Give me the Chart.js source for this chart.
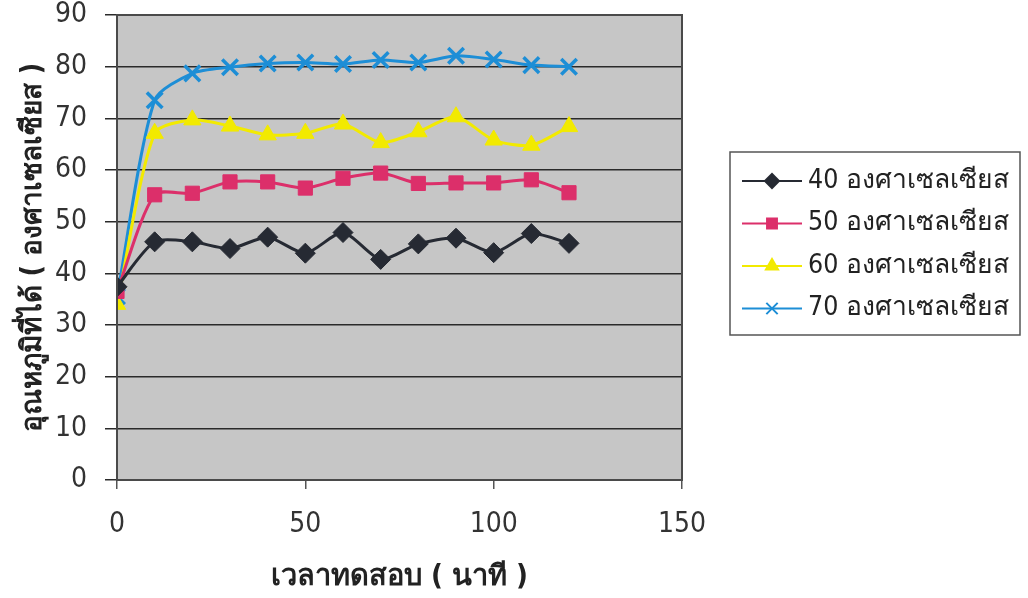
<!DOCTYPE html>
<html>
<head>
<meta charset="utf-8">
<script src="https://cdn.jsdelivr.net/npm/chart.js@4.4.1/dist/chart.umd.min.js"></script>
<style>
  html, body { margin: 0; padding: 0; background: #fff; }
  #wrap { width: 1028px; height: 598px; position: relative; }
</style>
</head>
<body>
<div id="wrap"><canvas id="chart"></canvas></div>
<script>
// test time in minutes
const times = [0, 10, 20, 30, 40, 50, 60, 70, 80, 90, 100, 110, 120];

// measured temperature (deg C) for each set temperature
const temp40 = [37.4, 46.1, 46.1, 44.8, 47.0, 43.9, 47.9, 42.7, 45.7, 46.8, 44.0, 47.7, 45.8];
const temp50 = [36.5, 55.2, 55.5, 57.7, 57.7, 56.5, 58.4, 59.4, 57.4, 57.5, 57.5, 58.1, 55.6];
const temp60 = [34.0, 67.1, 69.7, 68.5, 66.8, 67.1, 68.9, 65.3, 67.4, 70.3, 65.8, 64.8, 68.4];
const temp70 = [35.5, 73.5, 78.7, 79.9, 80.6, 80.8, 80.5, 81.3, 80.8, 82.1, 81.4, 80.3, 80.0];

const seriesNames = ['40 องศาเซลเซียส', '50 องศาเซลเซียส', '60 องศาเซลเซียส', '70 องศาเซลเซียส'];
const xTitle = 'เวลาทดสอบ ( นาที )';
const yTitle = 'อุณหภูมิที่ได้ ( องศาเซลเซียส )';

const FONT = "'DejaVu Sans Condensed', 'DejaVu Sans', 'Noto Sans', sans-serif";

function pairs(vals) {
  return times.map((t, i) => ({ x: t, y: vals[i] }));
}

function series(label, vals, color, style, radius) {
  return {
    label: label,
    data: pairs(vals),
    borderColor: color,
    backgroundColor: color,
    borderWidth: 3,
    tension: 0.25,
    pointStyle: style,
    pointRadius: radius,
    pointBorderWidth: style === 'crossRot' ? 3.5 : 1,
    pointBorderColor: color,
    pointBackgroundColor: color,
  };
}

const datasets = [
  series(seriesNames[0], temp40, '#262a33', 'rectRot', 10),
  series(seriesNames[1], temp50, '#dc2f6a', 'rect', 10),
  series(seriesNames[2], temp60, '#f2ea00', 'triangle', 10),
  series(seriesNames[3], temp70, '#1d8ed6', 'crossRot', 11),
];

// gray plot area with a dark frame
const plotFrame = {
  id: 'plotFrame',
  beforeDraw(chart) {
    const { ctx, chartArea: a } = chart;
    ctx.save();
    ctx.fillStyle = '#c6c6c6';
    ctx.fillRect(a.left, a.top, a.right - a.left, a.bottom - a.top);
    ctx.restore();
  },
  afterDatasetsDraw(chart) {
    const { ctx, chartArea: a } = chart;
    ctx.save();
    ctx.strokeStyle = '#4a4a4a';
    ctx.lineWidth = 2;
    ctx.strokeRect(a.left, a.top, a.right - a.left, a.bottom - a.top);
    ctx.restore();
  }
};

// Excel style legend: line through marker, boxed
const boxLegend = {
  id: 'boxLegend',
  afterDraw(chart) {
    const ctx = chart.ctx;
    const box = { x: 730, y: 152, w: 290, h: 183 };
    ctx.save();
    ctx.fillStyle = '#fff';
    ctx.fillRect(box.x, box.y, box.w, box.h);
    ctx.strokeStyle = '#555';
    ctx.lineWidth = 1.5;
    ctx.strokeRect(box.x, box.y, box.w, box.h);
    chart.data.datasets.forEach((ds, i) => {
      const y = box.y + 29 + i * 42.5;
      ctx.strokeStyle = ds.borderColor;
      ctx.lineWidth = 2;
      ctx.beginPath();
      ctx.moveTo(box.x + 12, y);
      ctx.lineTo(box.x + 72, y);
      ctx.stroke();
      ctx.fillStyle = ds.backgroundColor;
      Chart.helpers.drawPoint(ctx, {
        pointStyle: ds.pointStyle,
        radius: ds.pointRadius - 3,
        rotation: 0,
        borderWidth: ds.pointBorderWidth,
      }, box.x + 42, y);
      ctx.fillStyle = '#222';
      ctx.font = '26.5px ' + FONT;
      ctx.textBaseline = 'middle';
      ctx.textAlign = 'left';
      ctx.fillText(ds.label, box.x + 78, y);
    });
    ctx.restore();
  }
};

new Chart(document.getElementById('chart'), {
  type: 'line',
  data: { datasets: datasets },
  plugins: [plotFrame, boxLegend],
  options: {
    responsive: true,
    maintainAspectRatio: false,
    animation: false,
    layout: { padding: { left: 12, top: 15, right: 346, bottom: 0 } },
    plugins: {
      legend: { display: false },
      tooltip: { enabled: false },
    },
    scales: {
      x: {
        type: 'linear',
        min: 0,
        max: 150,
        ticks: { stepSize: 50, color: '#333', padding: 19, font: { family: FONT, size: 28 } },
        grid: { drawOnChartArea: false, drawTicks: true, tickLength: 9, color: '#555', lineWidth: 1.5 },
        border: { display: true, color: '#4a4a4a', width: 2 },
        title: { display: true, text: xTitle, color: '#222', padding: { top: 4, bottom: 3 },
                 font: { family: FONT, size: 29, weight: 'bold' } },
        afterFit(scale) { scale.height = 118; },
      },
      y: {
        min: 0,
        max: 90,
        ticks: { stepSize: 10, color: '#333', padding: 18, font: { family: FONT, size: 28 } },
        grid: { color: '#2a2a2a', lineWidth: 1.5, tickLength: 12 },
        border: { display: true, color: '#4a4a4a', width: 2 },
        title: { display: true, text: yTitle, color: '#222', padding: { top: 5, bottom: 0 },
                 font: { family: FONT, size: 28, weight: 'bold' } },
        afterFit(scale) {
          scale.width = 105;
          scale.paddingTop = 0;
        },
      },
    },
  },
});
</script>
</body>
</html>
